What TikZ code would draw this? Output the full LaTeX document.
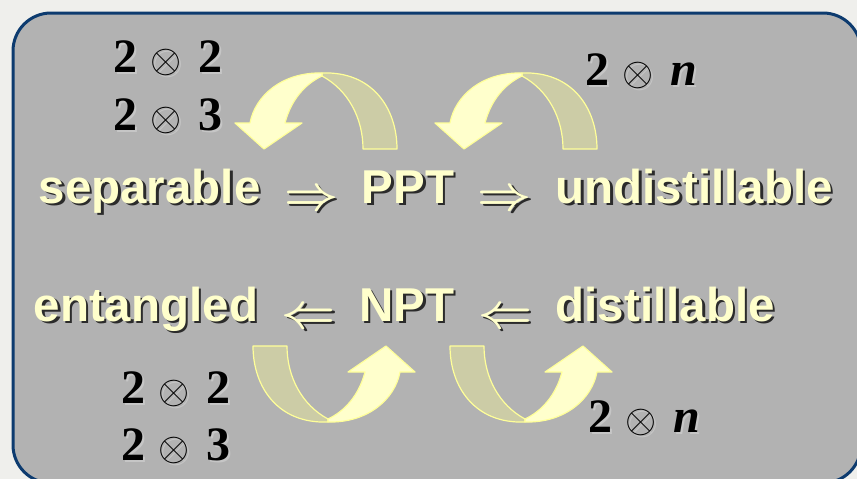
\RequirePackage{fix-cm}
\documentclass[tikz,border=0pt]{standalone}
\usepackage{amsmath}
\usepackage{fontspec}
\setmainfont{Liberation Sans}
\newfontfamily\timesfont{Liberation Serif}
\usetikzlibrary{positioning}
\definecolor{pageBg}{HTML}{EFEFEC}
\definecolor{panelGrey}{HTML}{B2B2B2}
\definecolor{frameBlue}{HTML}{0D3B6F}
\definecolor{paleYellow}{HTML}{FFFFCC}
\definecolor{ribbonDark}{HTML}{CCCCA6}
\definecolor{ribbonEdge}{HTML}{FFFF99}
\definecolor{shadeDark}{HTML}{2B2B2B}
\definecolor{shadeLight}{HTML}{C6C6C6}

% text with a drop shadow behind it
\newcommand{\withshade}[2]{\makebox[0pt][l]{\hspace{2.5pt}\raisebox{-2.5pt}{\textcolor{#1}{#2}}}#2}
\newcommand{\tensorof}[2]{#1\hspace{13pt}{\fontsize{40}{40}\selectfont$\otimes$}\hspace{17pt}#2}
% the twisted ribbon arrow, drawn at the upper left place
\newcommand{\ribbon}{%
  \draw[backface] (322,73) .. controls (372,71) and (397,108) .. (397,149)
    -- (363,149) .. controls (363,118) and (348,90) .. (322,76) -- cycle;
  \draw[frontface] (322,73) .. controls (282,72) and (255,96) .. (250,123)
    -- (235,123) -- (264,149) -- (302,123) -- (285,123)
    .. controls (291,100) and (305,84) .. (322,76) -- cycle;
}

\begin{document}
\begin{tikzpicture}[x=1pt, y=-1pt, node distance=23.25pt,
    word/.style={inner sep=0pt, text=paleYellow, font=\fontsize{47.5}{50}\selectfont\bfseries},
    implies/.style={inner sep=0pt, text=paleYellow, font=\fontsize{47}{50}\selectfont},
    tensor/.style={inner sep=0pt, anchor=base west, font=\fontsize{48}{50}\selectfont\timesfont\bfseries},
    backface/.style={fill=ribbonDark, draw=ribbonEdge, line width=1.2pt, line join=round},
    frontface/.style={fill=paleYellow, draw=ribbonEdge, line width=1.2pt, line join=round}]
  \useasboundingbox (0,0) rectangle (857,479);
  \fill[pageBg] (0,0) rectangle (857,479);
  \draw[frameBlue, fill=panelGrey, line width=3pt, rounded corners=38pt] (13,13) rectangle (861,483);

  % ribbons
  \ribbon
  \begin{scope}[shift={(200,0)}]
    \ribbon
  \end{scope}
  \begin{scope}[rotate around={180:(325,247.5)}]
    \ribbon
  \end{scope}
  \begin{scope}[shift={(197,0)}]
    \begin{scope}[rotate around={180:(325,247.5)}]
      \ribbon
    \end{scope}
  \end{scope}

  % upper row
  \node[word, anchor=base west] (sep) at (38.5,203) {\withshade{shadeDark}{separable}};
  \node[implies, base right=of sep] (imp1) {\withshade{shadeDark}{\raisebox{-6pt}{$\boldsymbol{\Rightarrow}$}}};
  \node[word, base right=of imp1] (ppt) {\withshade{shadeDark}{PPT}};
  \node[implies, base right=of ppt] (imp2) {\withshade{shadeDark}{\raisebox{-6pt}{$\boldsymbol{\Rightarrow}$}}};
  \node[word, base right=of imp2] (undist) {\withshade{shadeDark}{undistillable}};

  % lower row
  \node[word, anchor=base west] (ent) at (33.5,321) {\withshade{shadeDark}{entangled}};
  \node[implies, base right=of ent] (imp3) {\withshade{shadeDark}{\raisebox{-6pt}{$\boldsymbol{\Leftarrow}$}}};
  \node[word, base right=of imp3] (npt) {\withshade{shadeDark}{NPT}};
  \node[implies, base right=of npt] (imp4) {\withshade{shadeDark}{\raisebox{-6pt}{$\boldsymbol{\Leftarrow}$}}};
  \node[word, base right=of imp4] (dist) {\withshade{shadeDark}{distillable}};

  % dimensions
  \node[tensor] (topTwo) at (113,72) {\withshade{shadeLight}{\tensorof{2}{2}}};
  \node[tensor] (topThree) at (113,130) {\withshade{shadeLight}{\tensorof{2}{3}}};
  \node[tensor] (topN) at (585,85) {\withshade{shadeLight}{\tensorof{2}{\itshape n}}};
  \node[tensor] (lowTwo) at (121,403) {\withshade{shadeLight}{\tensorof{2}{2}}};
  \node[tensor] (lowThree) at (121,460) {\withshade{shadeLight}{\tensorof{2}{3}}};
  \node[tensor] (lowN) at (588,432) {\withshade{shadeLight}{\tensorof{2}{\itshape n}}};
\end{tikzpicture}
\end{document}
